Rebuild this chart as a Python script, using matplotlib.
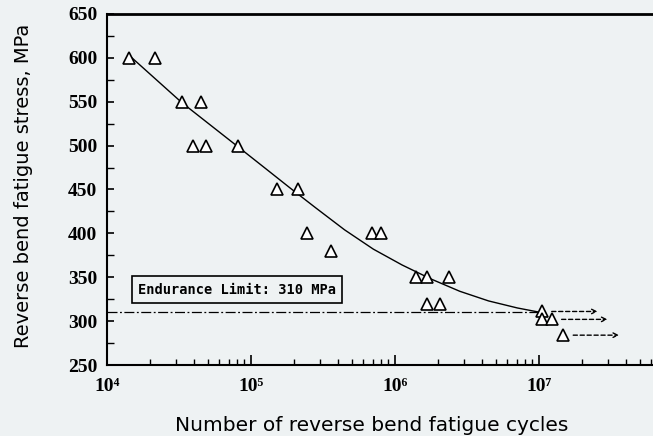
import matplotlib
matplotlib.use("Agg")
import matplotlib.pyplot as plt
from matplotlib.ticker import FixedLocator, LogLocator, MultipleLocator, NullFormatter
from matplotlib.transforms import offset_copy

# ---- data ----
cycles = [1.43e4, 2.15e4, 3.33e4, 4.5e4, 3.98e4, 4.9e4, 8.1e4, 1.51e5, 2.13e5,
          2.43e5, 6.9e5, 7.95e5, 3.6e5, 1.4e6, 1.66e6, 2.38e6, 1.66e6, 2.04e6]
stress = [600, 600, 550, 550, 500, 500, 500, 450, 450,
          400, 400, 400, 380, 350, 350, 350, 320, 320]

runout_cycles = [1.05e7, 1.05e7, 1.23e7, 1.48e7]
runout_stress = [311, 302, 302, 284]
arrow_cycles = [1.05e7, 1.23e7, 1.48e7]
arrow_stress = [311, 302, 284]

curve_cycles = [1.40e4, 3.31e4, 7.94e4, 1.26e5, 1.86e5, 2.82e5, 4.47e5, 7.08e5,
                1.12e6, 1.78e6, 2.82e6, 4.47e6, 7.08e6, 1.02e7]
curve_stress = [604, 549, 500, 474, 452, 429, 404, 382,
                364, 348, 334, 323, 315, 310]

endurance = 310
y_ticks = [250, 300, 350, 400, 450, 500, 550, 600, 650]
x_ticks = [1e4, 1e5, 1e6, 1e7]
x_tick_labels = ["10\u2074", "10\u2075", "10\u2076", "10\u2077"]

bg = "#eef2f3"
fig = plt.figure(figsize=(6.53, 4.36), dpi=100, facecolor=bg)
ax = fig.add_axes([107/653, 1-365/436, 1-107/653, (365-14)/436])
ax.set_facecolor(bg)

ax.set_xscale("log")
ax.set_xlim(1e4, 10**7.792)
ax.set_ylim(250, 650)

ax.plot(curve_cycles, curve_stress, color="black", lw=1.0, zorder=2)
ax.plot([1e4, runout_cycles[0]], [endurance, endurance], color="black",
        lw=0.9, ls=(0, (8, 2, 1.5, 2)), zorder=2)

ax.plot(cycles, stress, ls="none", marker="^", ms=8, mfc="white", mec="black",
        mew=1.2, zorder=3)
ax.plot(runout_cycles, runout_stress, ls="none", marker="^", ms=8, mfc="white",
        mec="black", mew=1.2, zorder=3)

start_tr = offset_copy(ax.transData, fig=fig, x=7, y=0, units="points")
end_tr = offset_copy(ax.transData, fig=fig, x=40, y=0, units="points")
for xc, yc in zip(arrow_cycles, arrow_stress):
    ax.annotate("", xy=(xc, yc), xycoords=end_tr, xytext=(xc, yc),
                textcoords=start_tr,
                arrowprops=dict(arrowstyle="->", lw=1.0, ls=(0, (3, 2)),
                                color="black", shrinkA=0, shrinkB=0,
                                mutation_scale=8))

ax.text(10**4.215, 336, "Endurance Limit: 310 MPa", fontsize=9.8,
        family="DejaVu Sans Mono", fontweight="bold", va="center", ha="left",
        bbox=dict(boxstyle="square,pad=0.45", fc=bg, ec="black", lw=1.2))

# ticks
ax.xaxis.set_major_locator(FixedLocator(x_ticks))
ax.set_xticklabels(x_tick_labels, family=["Liberation Serif", "DejaVu Serif"],
                   fontweight="bold", fontsize=14)
ax.xaxis.set_minor_locator(LogLocator(base=10, subs=range(2, 10), numticks=20))
ax.xaxis.set_minor_formatter(NullFormatter())
ax.yaxis.set_major_locator(FixedLocator(y_ticks))
ax.set_yticklabels([str(v) for v in y_ticks],
                   family=["Liberation Serif", "DejaVu Serif"],
                   fontweight="bold", fontsize=14)
ax.yaxis.set_minor_locator(MultipleLocator(25))

ax.tick_params(axis="x", which="major", direction="in", length=7, width=1.2,
               pad=9, top=False)
ax.tick_params(axis="x", which="minor", direction="in", length=4, width=1.0,
               top=False)
ax.tick_params(axis="y", which="major", direction="in", length=5, width=1.2,
               pad=7, right=False)
ax.tick_params(axis="y", which="minor", direction="in", length=5, width=1.0,
               right=False)

ax.spines["right"].set_visible(False)
ax.spines["top"].set_linewidth(2.0)
ax.spines["left"].set_linewidth(1.5)
ax.spines["bottom"].set_linewidth(1.5)

fig.text(372/653, 1-425/436, "Number of reverse bend fatigue cycles",
         ha="center", va="center", fontsize=14.5, family="DejaVu Sans")
fig.text(24/653, 1-186/436, "Reverse bend fatigue stress, MPa", rotation=90,
         ha="center", va="center", fontsize=14, family="DejaVu Sans")

fig.savefig("out.png", dpi=100, facecolor=bg)
